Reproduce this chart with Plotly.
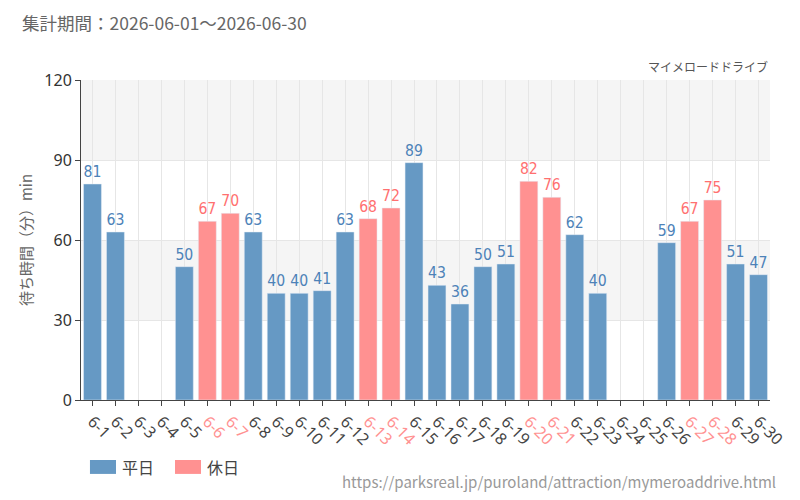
import plotly.graph_objects as go

days = [f"6-{d}" for d in range(1, 31)]
holidays = ["6-6", "6-7", "6-13", "6-14", "6-20", "6-21", "6-27", "6-28"]
waits = [81, 63, None, None, 50, 67, 70, 63, 40, 40, 41, 63, 68, 72, 89,
         43, 36, 50, 51, 82, 76, 62, 40, None, None, 59, 67, 75, 51, 47]

weekday_vals = [v if d not in holidays else None for d, v in zip(days, waits)]
holiday_vals = [v if d in holidays else None for d, v in zip(days, waits)]

BLUE = "rgb(102,153,196)"
BLUE_TXT = "rgb(77,130,184)"
PINK = "rgb(255,145,145)"
PINK_TXT = "rgb(255,112,112)"
LABEL_FONT = "DejaVu Sans Condensed, Liberation Sans Narrow, Roboto, sans-serif"

fig = go.Figure()
fig.add_bar(x=days, y=weekday_vals, name="平日", marker_color=BLUE,
            text=[str(v) if v is not None else "" for v in weekday_vals],
            textposition="outside", textfont=dict(color=BLUE_TXT, size=16, family=LABEL_FONT),
            cliponaxis=False, showlegend=False)
fig.add_bar(x=days, y=holiday_vals, name="休日", marker_color=PINK,
            text=[str(v) if v is not None else "" for v in holiday_vals],
            textposition="outside", textfont=dict(color=PINK_TXT, size=16, family=LABEL_FONT),
            cliponaxis=False, showlegend=False)

ticktext = [f'<span style="color:{PINK}">{d}</span>' if d in holidays else d for d in days]

for y0, y1 in [(30, 60), (90, 120)]:
    fig.add_shape(type="rect", xref="paper", yref="y", x0=0, x1=1, y0=y0, y1=y1,
                  fillcolor="#f5f5f5", line_width=0, layer="below")

# custom legend swatches
legend_items = [("平日", BLUE, 0.013), ("休日", PINK, 0.1364)]
annotations = []
for name, col, x0 in legend_items:
    fig.add_shape(type="rect", xref="paper", yref="paper", x0=x0, x1=x0 + 0.0378,
                  y0=-0.231, y1=-0.1875, fillcolor=col, line_width=0)
    annotations.append(dict(text=name, xref="paper", yref="paper", x=x0 + 0.0436, y=-0.209,
                            xanchor="left", yanchor="middle", showarrow=False,
                            font=dict(size=16, color="#444")))

annotations += [
    dict(text="集計期間：2026-06-01～2026-06-30", xref="paper", yref="paper",
         x=-0.0885, y=1.181, xanchor="left", yanchor="middle", showarrow=False,
         font=dict(size=17.5, color="#666")),
    dict(text="マイメロードドライブ", xref="paper", yref="paper", x=1, y=1.01,
         xanchor="right", yanchor="bottom", showarrow=False,
         font=dict(size=12, color="#555")),
    dict(text="https://parksreal.jp/puroland/attraction/mymeroaddrive.html",
         xref="paper", yref="paper", x=1.0116, y=-0.256, xanchor="right",
         yanchor="middle", showarrow=False, font=dict(size=15, color="#999")),
]

fig.update_layout(
    width=800, height=500,
    margin=dict(l=81, r=30, t=80, b=100),
    plot_bgcolor="white", paper_bgcolor="white",
    barmode="overlay", bargap=0.22,
    font=dict(family="Noto Sans CJK JP, Noto Sans, sans-serif", color="#555"),
    showlegend=False,
    xaxis=dict(tickmode="array", tickvals=days, ticktext=ticktext, tickangle=45,
               automargin=False,
               showgrid=True, gridcolor="#e6e6e6", showline=True, linecolor="#444",
               ticks="outside", ticklen=5, tickcolor="#444",
               tickfont=dict(size=16, color="#444", family="Noto Sans, sans-serif")),
    yaxis=dict(range=[0, 120], tickvals=[0, 30, 60, 90, 120], showgrid=True,
               automargin=False,
               gridcolor="#e6e6e6", showline=True, linecolor="#444", ticks="outside",
               ticklen=5, tickcolor="#444", zeroline=False,
               tickfont=dict(size=16, color="#333", family="Noto Sans, sans-serif"),
               title=dict(text="待ち時間（分）min", font=dict(size=15, color="#666"), standoff=8)),
    annotations=annotations,
)

fig.write_html("out.html")
